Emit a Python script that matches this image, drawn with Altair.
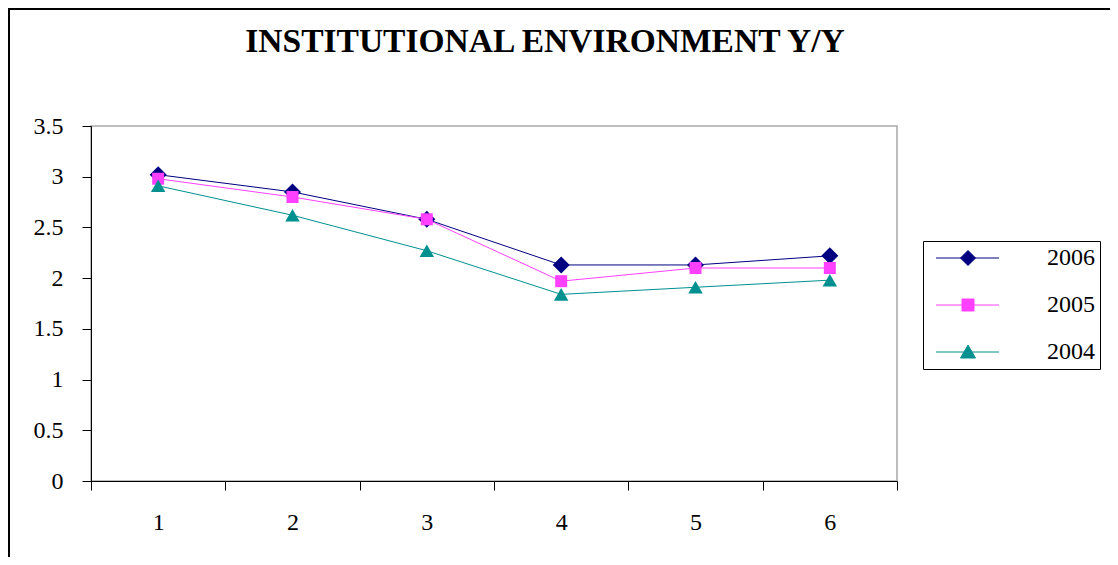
import altair as alt
import pandas as pd

categories = [1, 2, 3, 4, 5, 6]
years = ["2006", "2005", "2004"]
v2006 = [3.02, 2.85, 2.58, 2.13, 2.13, 2.22]
v2005 = [2.98, 2.80, 2.58, 1.97, 2.10, 2.10]
v2004 = [2.91, 2.62, 2.27, 1.84, 1.91, 1.98]
y_ticks = [0, 0.5, 1, 1.5, 2, 2.5, 3, 3.5]
x_ticks = [0.5, 1, 1.5, 2, 2.5, 3, 3.5, 4, 4.5, 5, 5.5, 6, 6.5]

colors = ["#000080", "#FF40FF", "#009090"]
plot_shapes = ["diamond", "square", "triangle-up"]
plot_sizes = [289, 144, 210]
legend_paths = [
    "M-0.4,0H5.9M2.8,-0.75L3.55,0L2.8,0.75L2.05,0Z",
    "M-0.4,0H5.9M2.2,-0.6H3.4V0.6H2.2Z",
    "M-0.4,0H5.9M2.8,-0.7L3.55,0.6H2.05Z",
]

rows = []
for yr, vals in zip(years, [v2006, v2005, v2004]):
    for c, v in zip(categories, vals):
        rows.append({"cat": c, "year": yr, "value": v})
df = pd.DataFrame(rows)

FONT = "Liberation Serif"

x = alt.X(
    "cat:Q",
    scale=alt.Scale(domain=[0.5, 6.5], nice=False, zero=False),
    axis=alt.Axis(
        values=x_ticks,
        labelExpr="datum.value % 1 === 0 ? format(datum.value, 'd') : ''",
        tickOpacity={"condition": {"test": "datum.value % 1 === 0", "value": 0}, "value": 1},
        grid=False,
        title=None,
        tickSize=9,
        labelPadding=20,
        labelFlush=False,
        labelOverlap=False,
        labelBound=False,
    ),
)
y = alt.Y(
    "value:Q",
    scale=alt.Scale(domain=[0, 3.5], nice=False),
    axis=alt.Axis(values=y_ticks, format="~g", grid=False, title=None, tickSize=9, labelPadding=19),
)

base = alt.Chart(df)

series_layers = []
for yr, col, shp, sz in zip(years, colors, plot_shapes, plot_sizes):
    sub = base.transform_filter(alt.datum.year == yr)
    series_layers.append(sub.mark_line(strokeWidth=1, color=col).encode(x=x, y=y))
    series_layers.append(
        sub.mark_point(shape=shp, filled=True, size=sz, opacity=1, color=col).encode(x=x, y=y)
    )

leg = alt.Legend(
    title=None,
    orient="none",
    legendX=832,
    legendY=115,
    symbolSize=400,
    symbolStrokeWidth=1,
    symbolOpacity=1,
    labelFont=FONT,
    labelFontSize=24,
    labelColor="black",
    labelOffset=95,
    labelExpr="datum.label + '\u00a0\u00a0'",
    padding=5,
    rowPadding=23,
    strokeColor="black",
    fillColor="white",
)
legend_layer = base.mark_point(filled=True, opacity=0).encode(
    x=x,
    y=y,
    fill=alt.Fill("year:N", scale=alt.Scale(domain=years, range=colors), legend=leg),
    stroke=alt.Stroke("year:N", scale=alt.Scale(domain=years, range=colors), legend=leg),
    shape=alt.Shape("year:N", scale=alt.Scale(domain=years, range=legend_paths), legend=leg),
)

border = alt.Chart(pd.DataFrame({"k": [0]})).mark_rect(
    fillOpacity=0, stroke="black", strokeWidth=2
).encode(x=alt.value(-82), x2=alt.value(1200), y=alt.value(-117), y2=alt.value(1000))

chart = (
    alt.layer(border, *series_layers, legend_layer)
    .properties(
        width=806,
        height=355,
        autosize=alt.AutoSizeParams(type="none"),
        padding={"left": 83, "top": 118, "right": 213, "bottom": 76},
        title=alt.TitleParams(
            "INSTITUTIONAL ENVIRONMENT Y/Y",
            font=FONT,
            fontSize=33.5,
            fontWeight="bold",
            color="black",
            anchor="middle",
            dx=51,
            baseline="alphabetic",
            offset=-77,
        ),
    )
    .configure_view(stroke="#A8A8A8", strokeWidth=1.5)
    .configure_axis(
        domainColor="black",
        tickColor="black",
        labelColor="black",
        labelFont=FONT,
        labelFontSize=24,
        domainWidth=1,
        tickWidth=1,
    )
)

chart.save("out.html", embed_options={"renderer": "svg", "actions": False})
